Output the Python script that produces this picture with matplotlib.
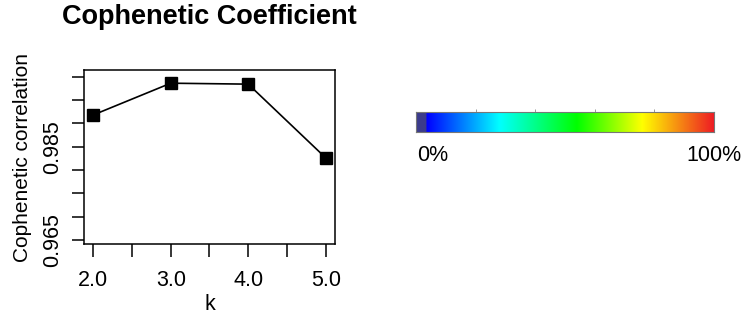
import numpy as np
import matplotlib
matplotlib.use('Agg')
import matplotlib.pyplot as plt
from matplotlib.colors import LinearSegmentedColormap

plt.rcParams['font.family'] = ['Liberation Sans', 'DejaVu Sans']

# data
k_values = [2, 3, 4, 5]
coph_values = [0.9918, 0.9986, 0.9984, 0.9826]
x_major = [2.0, 3.0, 4.0, 5.0]
x_minor = [2.5, 3.5, 4.5]
y_ticks = [0.965, 0.970, 0.975, 0.980, 0.985, 0.990, 0.995, 1.000]
y_labelled = {0.965: '0.965', 0.985: '0.985'}

# colour key
key_stops = [0.0, 0.034, 0.035, 0.28, 0.54, 0.76, 1.0]
key_colors = ['#3b3b8c', '#3b3b8c', '#0000ff', '#00ffff', '#00ff00', '#ffff00', '#ee1c24']
key_ticks = [0.2, 0.4, 0.6, 0.8]

fig = plt.figure(figsize=(7.46, 3.24), dpi=100)

ax = fig.add_axes([84/746, 1-244/324, (335-84)/746, (244-70)/324])
ax.plot(k_values, coph_values, color='black', lw=1.2, marker='s', ms=8.5,
        markerfacecolor='black', markeredgecolor='black')
ax.set_xlim(1.88, 5.12)
ax.set_ylim(0.96414, 1.00143)
ax.set_xticks(x_major)
ax.set_xticklabels(['%.1f' % v for v in x_major])
ax.set_xticks(x_minor, minor=True)
ax.set_yticks(y_ticks)
ax.set_yticklabels([y_labelled.get(round(v, 3), '') for v in y_ticks],
                   rotation=90, va='center')
for sp in ax.spines.values():
    sp.set_linewidth(1.1)
ax.tick_params(axis='both', which='both', length=9, width=1.1, direction='out',
               labelsize=15.5)
ax.tick_params(axis='x', which='major', pad=10)
ax.tick_params(axis='y', which='major', pad=6)
ax.set_xlabel('k', fontsize=15.5, labelpad=2)
ax.set_ylabel('Cophenetic correlation', fontsize=15, labelpad=7)
ax.set_title('Cophenetic Coefficient', fontsize=19.5, fontweight='bold', pad=33)

cmap = LinearSegmentedColormap.from_list('key', list(zip(key_stops, key_colors)), N=512)
cax = fig.add_axes([416/746, 1-132/324, (714-416)/746, 20/324])
grad = np.linspace(0, 1, 512).reshape(1, -1)
cax.imshow(grad, aspect='auto', cmap=cmap, extent=[0, 1, 0, 1])
cax.set_xlim(0, 1)
cax.set_ylim(0, 1)
cax.set_yticks([])
cax.set_xticks(key_ticks)
cax.xaxis.tick_top()
cax.tick_params(axis='x', length=2, width=0.6, color='#888888', labeltop=False,
                labelbottom=False)
for sp in cax.spines.values():
    sp.set_color('#777777')
    sp.set_linewidth(0.8)
fig.text(417/746, 1-156/324, '0%', fontsize=15.5, ha='left', va='center')
fig.text(741/746, 1-156/324, '100%', fontsize=15.5, ha='right', va='center')

fig.savefig('out.png', dpi=100)
